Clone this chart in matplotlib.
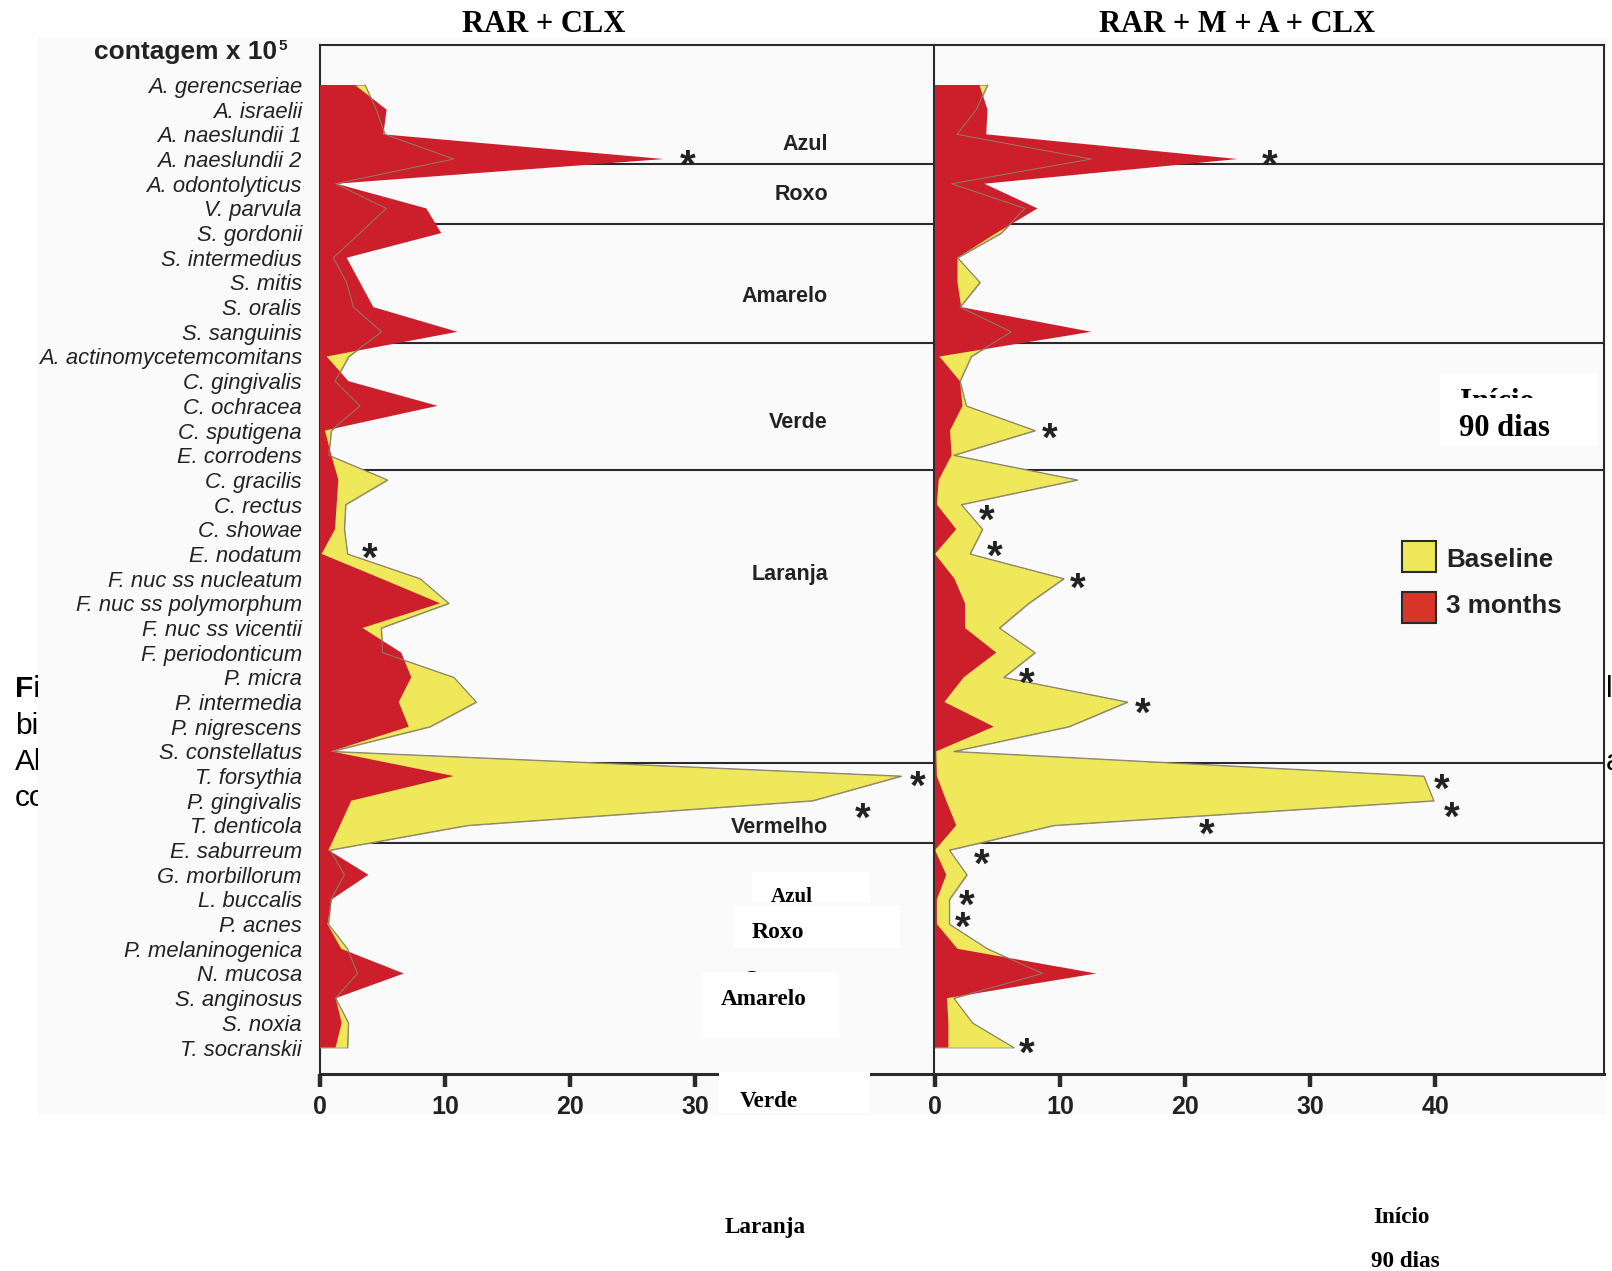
import matplotlib
matplotlib.use("Agg")
import matplotlib.pyplot as plt
import matplotlib.transforms as mtransforms
from matplotlib.patches import Rectangle
import numpy as np

plt.rcParams['font.family'] = ['Liberation Sans', 'DejaVu Sans']

# ---------------- data ----------------
species = ["A. gerencseriae", "A. israelii", "A. naeslundii 1", "A. naeslundii 2",
           "A. odontolyticus", "V. parvula", "S. gordonii", "S. intermedius", "S. mitis",
           "S. oralis", "S. sanguinis", "A. actinomycetemcomitans", "C. gingivalis",
           "C. ochracea", "C. sputigena", "E. corrodens", "C. gracilis", "C. rectus",
           "C. showae", "E. nodatum", "F. nuc ss nucleatum", "F. nuc ss polymorphum",
           "F. nuc ss vicentii", "F. periodonticum", "P. micra", "P. intermedia",
           "P. nigrescens", "S. constellatus", "T. forsythia", "P. gingivalis",
           "T. denticola", "E. saburreum", "G. morbillorum", "L. buccalis", "P. acnes",
           "P. melaninogenica", "N. mucosa", "S. anginosus", "S. noxia", "T. socranskii"]

# RAR + CLX
clx_baseline = [3.6, 4.5, 5.2, 10.7, 1.25, 5.3, 3.2, 1.07, 2.13, 2.67,
                4.93, 2.3, 1.2, 3.2, 0.9, 0.7, 5.4, 2.05, 1.95, 2.2,
                8.0, 10.3, 4.9, 5.0, 10.7, 12.5, 8.8, 0.93, 46.5, 39.4,
                11.8, 0.8, 1.95, 0.88, 0.67, 2.2, 3.0, 1.25, 2.27, 2.2]
clx_3months = [2.8, 5.33, 5.07, 27.5, 1.3, 8.5, 9.7, 2.13, 3.2, 4.27,
               11.0, 0.53, 2.27, 9.4, 0.4, 0.9, 1.47, 1.33, 1.2, 0.13,
               4.9, 9.6, 3.4, 6.5, 7.3, 6.3, 7.1, 0.9, 10.7, 2.5,
               1.6, 0.67, 3.87, 0.93, 0.6, 1.7, 6.7, 1.25, 1.73, 1.25]

# RAR + M + A + CLX
mac_baseline = [4.2, 3.3, 1.76, 12.5, 1.33, 7.2, 5.3, 1.8, 3.6, 2.0,
                6.1, 2.9, 2.0, 2.5, 8.0, 1.5, 11.4, 2.1, 3.8, 2.8,
                10.3, 7.5, 5.15, 8.0, 5.5, 15.4, 10.7, 1.5, 39.1, 39.9,
                9.5, 1.15, 2.55, 1.15, 1.15, 4.2, 8.6, 1.5, 3.0, 6.3]
mac_3months = [3.55, 4.2, 4.1, 24.2, 3.95, 8.2, 4.9, 1.8, 1.8, 2.1,
               12.5, 0.35, 2.0, 2.2, 1.2, 1.33, 0.3, 0.15, 1.7, 0.0,
               1.55, 2.4, 2.4, 4.9, 2.3, 0.75, 4.7, 0.1, 0.15, 0.9,
               1.7, 0.0, 0.9, 0.15, 0.15, 1.8, 12.9, 0.96, 1.07, 1.07]

panel_titles = ["RAR + CLX", "RAR + M + A + CLX"]
xticks_left = [0, 10, 20, 30]
xticks_right = [0, 10, 20, 30, 40]
legend_labels = ["Baseline", "3 months"]
complex_names = ["Azul", "Roxo", "Amarelo", "Verde", "Laranja", "Vermelho"]

# significance markers: (species, dx, dy)
sig_left = [("A. naeslundii 2", 1.9, 0.0), ("E. nodatum", 1.8, -0.08),
            ("T. forsythia", 1.3, 0.17), ("P. gingivalis", 4.0, 0.45)]
sig_right = [("A. naeslundii 2", 2.6, 0.0), ("C. sputigena", 1.2, 0.05),
             ("C. rectus", 2.0, 0.4), ("E. nodatum", 2.0, -0.15),
             ("F. nuc ss nucleatum", 1.15, 0.15), ("P. micra", 1.8, 0.0),
             ("P. intermedia", 1.2, 0.2), ("T. forsythia", 1.4, 0.28),
             ("P. gingivalis", 1.45, 0.43), ("T. denticola", 12.2, 0.1),
             ("E. saburreum", 2.55, 0.35), ("L. buccalis", 1.35, 0.0),
             ("P. acnes", 1.1, -0.1), ("T. socranskii", 1.0, 0.0)]

# ---------------- style / layout ----------------
W, H, DPI = 1612, 1271, 100
YELLOW = '#EEE85A'
RED = '#CD1F2B'
LEG_RED = '#D8352B'
LINE = '#2a2a2a'
TXT = '#222222'
SERIF = ['Liberation Serif', 'DejaVu Serif']
SANS = ['Liberation Sans', 'DejaVu Sans']

ROW0_Y, ROW_PX = 85.0, 24.68
AX_TOP, AX_BOT = 45, 1074
PX_PER_UNIT = 12.5
group_bounds = [3.2, 5.63, 10.46, 15.58, 27.47, 30.71]


def fx(x):
    return x / W


def fy(y):
    return 1 - y / H


fig = plt.figure(figsize=(W / DPI, H / DPI), dpi=DPI, facecolor='white')

# text fragments of the page behind the figure
for s, y, wt in [("Figura", 689, 'bold'), ("bio", 726, 'normal'), ("Al", 762, 'normal'), ("com", 798, 'normal')]:
    fig.text(fx(15), fy(y), s, ha='left', va='center', fontsize=21.5, fontweight=wt,
             color='black', family=SANS, zorder=-3)
for s, y in [("l", 689), ("a", 762)]:
    fig.text(fx(1606), fy(y), s, ha='left', va='center', fontsize=21.5, color='black',
             family=SANS, zorder=-3)

# light panel background
fig.add_artist(Rectangle((fx(38), fy(1115)), (1606 - 38) / W, (1115 - 38) / H,
                         transform=fig.transFigure, facecolor='#fafafa', edgecolor='none', zorder=-2))

ylim = ((AX_BOT - ROW0_Y) / ROW_PX, (AX_TOP - ROW0_Y) / ROW_PX)
axL = fig.add_axes([fx(320), fy(AX_BOT), (934 - 320) / W, (AX_BOT - AX_TOP) / H])
axR = fig.add_axes([fx(934), fy(AX_BOT), (1604 - 934) / W, (AX_BOT - AX_TOP) / H])
axL.set_xlim(0, (934 - 320) / PX_PER_UNIT)
axR.set_xlim(-1 / PX_PER_UNIT, (1604 - 935) / PX_PER_UNIT)

rows = np.arange(len(species))


def draw_panel(ax, base, three, ticks, sig):
    ax.set_facecolor('none')
    ax.set_ylim(*ylim)
    base = np.asarray(base)
    three = np.asarray(three)
    ax.fill_betweenx(rows, 0, base, facecolor=YELLOW, edgecolor='#9a9578', linewidth=0.6, zorder=3)
    ax.fill_betweenx(rows, 0, three, facecolor=RED, edgecolor='none', linewidth=0, zorder=4)
    ax.plot(base, rows, color='#8a8068', lw=0.7, zorder=5)
    for g in group_bounds:
        ax.axhline(g, color=LINE, lw=1.5, zorder=2)
    ax.set_xticks(ticks)
    ax.set_xticklabels([str(t) for t in ticks])
    ax.tick_params(axis='x', direction='out', length=9, width=3.2, color=LINE, pad=6,
                   labelsize=18, labelcolor=TXT)
    for lab in ax.get_xticklabels():
        lab.set_fontweight('bold')
    for sp in ax.spines.values():
        sp.set_color(LINE)
        sp.set_linewidth(1.5)
    ax.spines['bottom'].set_linewidth(2.2)
    fs = 29
    for name, dx, dy in sig:
        i = species.index(name)
        xv = max(base[i], three[i]) + dx
        tr = mtransforms.offset_copy(ax.transData, fig=fig, x=0, y=-0.46 * fs, units='points')
        ax.text(xv, i + dy, "*", transform=tr, ha='center', va='baseline', fontsize=fs,
                fontweight='bold', color=TXT, family=SANS, zorder=7, clip_on=False)


draw_panel(axL, clx_baseline, clx_3months, xticks_left, sig_left)
draw_panel(axR, mac_baseline, mac_3months, xticks_right, sig_right)

axL.spines['right'].set_visible(False)
axL.set_yticks(rows)
axL.set_yticklabels(species)
axL.tick_params(axis='y', length=0, pad=13, labelsize=15.8, labelcolor=TXT)
for lab in axL.get_yticklabels():
    lab.set_fontstyle('italic')
axR.set_yticks([])

# titles
fig.text(fx(544), fy(31.7), panel_titles[0], ha='center', va='baseline', fontsize=22,
         fontweight='bold', family=SERIF, color='black')
fig.text(fx(1237), fy(31.7), panel_titles[1], ha='center', va='baseline', fontsize=22,
         fontweight='bold', family=SERIF, color='black')

# axis unit label
fig.text(fx(277), fy(59.3), "contagem x 10", ha='right', va='baseline', fontsize=19,
         fontweight='bold', color=TXT, family=SANS)
fig.text(fx(278.5), fy(50.5), "5", ha='left', va='baseline', fontsize=11,
         fontweight='bold', color=TXT, family=SANS)

# complex names inside the left panel
for name, yb in zip(complex_names, [150, 200, 301.7, 428, 580, 833]):
    fig.text(fx(828), fy(yb), name, ha='right', va='baseline', fontsize=15.5,
             fontweight='bold', color=TXT, family=SANS, zorder=5)

# legend
for (lab, col, ytop, ybase) in [(legend_labels[0], YELLOW, 540.5, 566.7),
                                (legend_labels[1], LEG_RED, 591.5, 613.3)]:
    fig.add_artist(Rectangle((fx(1401.5), fy(ytop + 31)), 34.5 / W, 31 / H, transform=fig.transFigure,
                             facecolor=col, edgecolor=LINE, linewidth=1.5, zorder=6))
    fig.text(fx(1446), fy(ybase), lab, ha='left', va='baseline', fontsize=18.7,
             fontweight='bold', color=TXT, family=SANS, zorder=6)

# pasted "Início / 90 dias" label inside right panel
fig.add_artist(Rectangle((fx(1440), fy(445)), (1597 - 1440) / W, (445 - 373) / H,
                         transform=fig.transFigure, facecolor='white', edgecolor='none', zorder=6))
fig.text(fx(1497), fy(410), "Início", ha='center', va='baseline', fontsize=22,
         fontweight='bold', family=SERIF, color='black', zorder=7)
fig.add_artist(Rectangle((fx(1440), fy(445)), (1597 - 1440) / W, (445 - 398.5) / H,
                         transform=fig.transFigure, facecolor='white', edgecolor='none', zorder=8))
fig.text(fx(1504), fy(436), "90 dias", ha='center', va='baseline', fontsize=22,
         fontweight='bold', family=SERIF, color='black', zorder=9)

# pasted labels at the bottom
fig.text(fx(777), fy(986), "Outros", ha='center', va='baseline', fontsize=16.7,
         fontweight='bold', family=SERIF, color='black', zorder=8)
bottom_items = [
    ("Azul", 791.5, 902, (752, 872, 870, 903), 15),
    ("Roxo", 778, 938, (734, 905, 900, 948), 17),
    ("Amarelo", 764, 1005, (701, 972, 839, 1037), 16.7),
    ("Verde", 768.5, 1107, (719, 1072, 870, 1113), 16.7),
]
for txt, xc, yb, (x0, y0, x1, y1), fs in bottom_items:
    fig.add_artist(Rectangle((fx(x0), fy(y1)), (x1 - x0) / W, (y1 - y0) / H,
                             transform=fig.transFigure, facecolor='white', edgecolor='none', zorder=9))
    fig.text(fx(xc), fy(yb), txt, ha='center', va='baseline', fontsize=fs,
             fontweight='bold', family=SERIF, color='black', zorder=10)
fig.text(fx(765), fy(1233), "Laranja", ha='center', va='baseline', fontsize=16.7,
         fontweight='bold', family=SERIF, color='black', zorder=10)
fig.text(fx(1401), fy(1223), "Início", ha='center', va='baseline', fontsize=16.7,
         fontweight='bold', family=SERIF, color='black', zorder=10)
fig.text(fx(1405.5), fy(1267), "90 dias", ha='center', va='baseline', fontsize=16.7,
         fontweight='bold', family=SERIF, color='black', zorder=10)

fig.savefig("out.png", dpi=DPI, facecolor='white')
